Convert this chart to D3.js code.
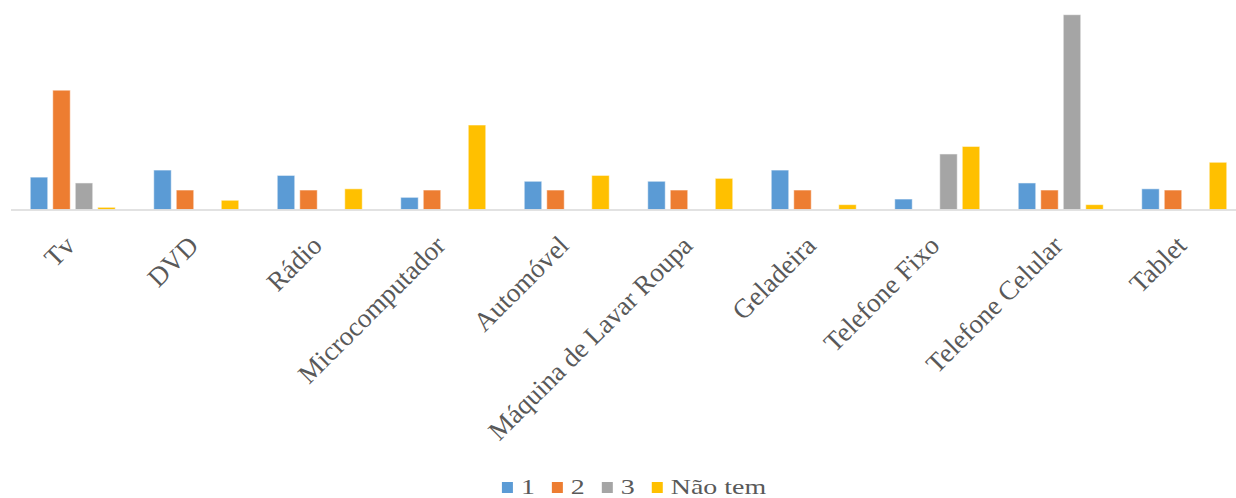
<!DOCTYPE html>
<html>
<head>
<meta charset="utf-8">
<script src="https://cdn.jsdelivr.net/npm/d3@7"></script>
<style>
	body { margin: 0; background: #fff; }
	svg { display: block; }
</style>
</head>
<body>
<svg class="mainsvg" width="1236" height="498"></svg>
<script>
// data
var categories = ['Tv', 'DVD', 'Rádio', 'Microcomputador', 'Automóvel', 'Máquina de Lavar Roupa',
	'Geladeira', 'Telefone Fixo', 'Telefone Celular', 'Tablet'];
var seriesNames = ['1', '2', '3', 'Não tem'];
var serie1 = [13.3, 16.2, 14, 5, 11.6, 11.6, 16.2, 4.3, 10.9, 8.5];
var serie2 = [49, 8, 8, 8, 8, 8, 8, 0, 8, 8];
var serie3 = [10.9, 0, 0, 0, 0, 0, 0, 22.8, 80, 0];
var naoTem = [0.9, 3.8, 8.5, 34.7, 14, 12.8, 2, 25.9, 2, 19.4];
var colors = ['#5B9BD5', '#ED7D31', '#A5A5A5', '#FFC000'];

var seriesValues = [serie1, serie2, serie3, naoTem];

var _width = 1236, _height = 498;
var svg = d3.select('.mainsvg');

var x0 = d3.scaleBand()
	.domain(categories)
	.range([11, 11 + 1235])
	.padding(0);

var x1 = d3.scaleBand()
	.domain(seriesNames)
	.range([0, x0.bandwidth()])
	.paddingInner(0.222)
	.paddingOuter(0.855);

var y = d3.scaleLinear()
	.domain([0, 80])
	.range([209.5, 14.7]);

// bars
var groups = svg.append('g')
	.selectAll('g')
	.data(categories)
	.join('g')
	.attr('transform', function(d) { return 'translate(' + x0(d) + ',0)'; });

groups.selectAll('rect')
	.data(function(d, i) {
		return seriesNames.map(function(s, j) {
			return { key: s, value: seriesValues[j][i], color: colors[j] };
		});
	})
	.join('rect')
	.filter(function(d) { return d.value > 0; })
	.attr('x', function(d) { return x1(d.key); })
	.attr('y', function(d) { return y(d.value); })
	.attr('width', x1.bandwidth())
	.attr('height', function(d) { return y(0) - y(d.value); })
	.attr('fill', function(d) { return d.color; })
	.attr('stroke', '#fff')
	.attr('stroke-opacity', 0.55)
	.attr('stroke-width', 1);

// x axis
var xAxis = svg.append('g')
	.attr('transform', 'translate(0,' + y(0) + ')')
	.call(d3.axisBottom(x0).tickSize(0).tickPadding(0));

xAxis.select('.domain')
	.attr('d', 'M11,0.5H' + _width)
	.attr('stroke', '#D9D9D9')
	.attr('stroke-width', 1.5);

xAxis.selectAll('.tick text')
	.attr('font-family', '"Liberation Serif", "Times New Roman", serif')
	.attr('font-size', '27px')
	.attr('fill', '#595959')
	.style('text-anchor', 'end')
	.attr('y', 0)
	.attr('dy', '0.35em')
	.attr('transform', 'translate(-3,31) rotate(-45)');

// legend (text is drawn a bit wide, like the picture)
var stretch = 1.33;
var legend = svg.append('g');
var items = legend.selectAll('g')
	.data(seriesNames)
	.join('g');

items.append('rect')
	.attr('width', 11)
	.attr('height', 11)
	.attr('y', -12)
	.attr('fill', function(d, i) { return colors[i]; });

items.append('text')
	.attr('transform', 'translate(19,0) scale(' + stretch + ',1)')
	.attr('font-family', '"Liberation Serif", "Times New Roman", serif')
	.attr('font-size', '21px')
	.attr('fill', '#595959')
	.text(function(d) { return d; });

var offset = 0;
items.each(function() {
	var g = d3.select(this);
	g.attr('transform', 'translate(' + offset + ',0)');
	offset += 19 + g.select('text').node().getComputedTextLength() * stretch + 17;
});
var legendWidth = offset - 17;
legend.attr('transform', 'translate(' + (634 - legendWidth / 2) + ',494)');
</script>
</body>
</html>
